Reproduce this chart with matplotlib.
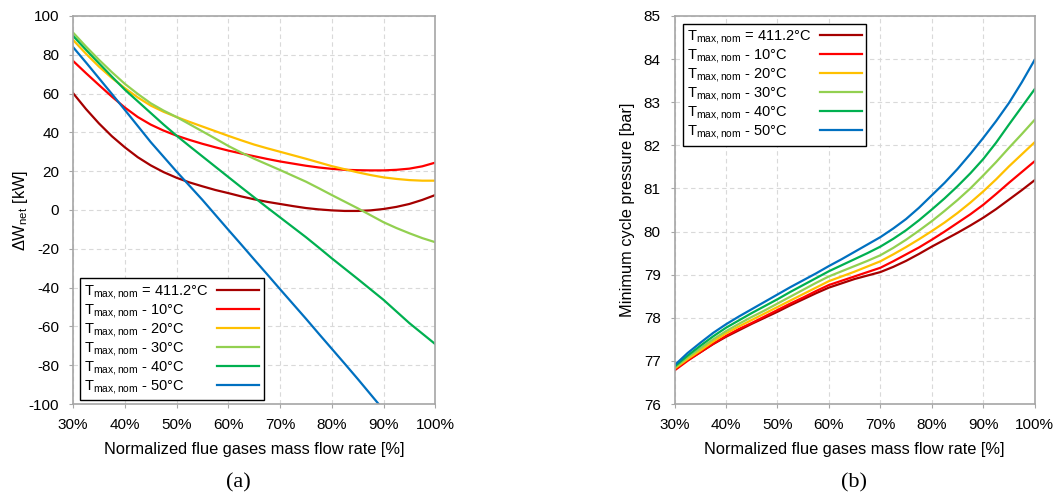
import matplotlib
matplotlib.use("Agg")
import matplotlib.pyplot as plt
import numpy as np

plt.rcParams['font.family'] = ['Liberation Sans', 'DejaVu Sans']
plt.rcParams['mathtext.default'] = 'regular'
plt.rcParams['axes.unicode_minus'] = False

# flue gas flow rate, % of nominal (2.5 % steps)
flow = [30, 32.5, 35, 37.5, 40, 42.5, 45, 47.5, 50, 52.5, 55, 57.5, 60, 62.5, 65,
        67.5, 70, 72.5, 75, 77.5, 80, 82.5, 85, 87.5, 90, 92.5, 95, 97.5, 100]

labels = [r'T$_{max,nom}$ = 411.2°C',
          r'T$_{max,nom}$ - 10°C',
          r'T$_{max,nom}$ - 20°C',
          r'T$_{max,nom}$ - 30°C',
          r'T$_{max,nom}$ - 40°C',
          r'T$_{max,nom}$ - 50°C']
colors = ['#A50000', '#FF0000', '#FFC000', '#92D050', '#00B050', '#0070C0']

# net power difference [kW]
dw_nom = [60.2, 52.0, 44.6, 38.0, 32.3, 27.2, 23.0, 19.5, 16.6, 14.2, 12.2, 10.3, 8.7, 7.0, 5.5,
          4.2, 3.1, 2.0, 1.0, 0.3, -0.2, -0.5, -0.5, -0.2, 0.5, 1.6, 3.1, 5.2, 7.7]
dw_10 = [76.8, 70.5, 64.4, 58.4, 52.8, 47.9, 44.0, 40.9, 38.3, 36.1, 34.1, 32.3, 30.6, 29.1, 27.7,
         26.3, 25.0, 23.9, 22.8, 21.9, 21.2, 20.7, 20.5, 20.4, 20.4, 20.7, 21.3, 22.5, 24.4]
dw_20 = [87.6, 80.5, 73.9, 68.0, 62.8, 58.0, 53.8, 50.6, 47.9, 45.4, 43.0, 40.6, 38.2, 35.9, 33.7,
         31.8, 30.0, 28.2, 26.4, 24.5, 22.6, 21.0, 19.4, 18.0, 16.8, 16.0, 15.4, 15.1, 15.1]
dw_30 = [91.4, 84.2, 77.4, 71.0, 65.0, 59.8, 55.0, 51.2, 47.9, 44.2, 40.5, 36.8, 33.0, 29.6, 26.4,
         23.5, 20.6, 17.6, 14.6, 11.2, 7.7, 4.3, 0.9, -2.7, -6.3, -9.3, -12.0, -14.5, -16.6]
dw_40 = [89.7, 82.5, 75.6, 68.7, 62.0, 56.0, 50.0, 44.0, 38.3, 32.9, 27.6, 22.3, 17.0, 11.7, 6.5,
         1.3, -3.8, -8.9, -14.0, -19.4, -24.9, -30.2, -35.5, -40.9, -46.3, -52.3, -58.3, -63.7, -69.1]
dw_50 = [83.9, 76.0, 67.9, 59.8, 51.6, 43.3, 35.0, 27.4, 19.8, 12.5, 5.2, -2.5, -10.2, -17.8, -25.5,
         -33.1, -40.8, -48.4, -56.0, -63.8, -71.5, -79.2, -87.0, -95.0, -103.0]

# minimum cycle pressure [bar]
p_nom = [76.80, 77.02, 77.20, 77.39, 77.56, 77.71, 77.86, 78.00, 78.14, 78.29, 78.43, 78.57, 78.70, 78.80, 78.90,
         78.98, 79.06, 79.18, 79.32, 79.48, 79.65, 79.81, 79.97, 80.14, 80.32, 80.52, 80.74, 80.96, 81.19]
p_10 = [76.78, 77.00, 77.20, 77.40, 77.58, 77.74, 77.88, 78.03, 78.18, 78.33, 78.47, 78.62, 78.76, 78.86, 78.96,
        79.06, 79.16, 79.31, 79.47, 79.63, 79.81, 80.00, 80.20, 80.40, 80.62, 80.87, 81.13, 81.38, 81.63]
p_20 = [76.82, 77.04, 77.24, 77.45, 77.64, 77.80, 77.95, 78.10, 78.25, 78.40, 78.55, 78.70, 78.85, 78.96, 79.07,
        79.19, 79.31, 79.47, 79.64, 79.82, 80.01, 80.21, 80.43, 80.67, 80.93, 81.21, 81.51, 81.79, 82.07]
p_30 = [76.84, 77.08, 77.29, 77.50, 77.69, 77.86, 78.02, 78.17, 78.33, 78.49, 78.65, 78.81, 78.96, 79.08, 79.20,
        79.32, 79.45, 79.62, 79.81, 80.02, 80.24, 80.48, 80.73, 81.00, 81.30, 81.61, 81.94, 82.26, 82.59]
p_40 = [76.87, 77.12, 77.35, 77.57, 77.77, 77.94, 78.11, 78.27, 78.43, 78.60, 78.76, 78.92, 79.08, 79.22, 79.36,
        79.50, 79.65, 79.83, 80.03, 80.26, 80.51, 80.77, 81.05, 81.35, 81.68, 82.06, 82.48, 82.89, 83.30]
p_50 = [76.90, 77.18, 77.42, 77.65, 77.85, 78.03, 78.20, 78.37, 78.54, 78.71, 78.87, 79.03, 79.20, 79.36, 79.53,
        79.70, 79.87, 80.07, 80.29, 80.55, 80.84, 81.13, 81.45, 81.80, 82.17, 82.56, 82.98, 83.46, 83.98]

dw_series = [dw_nom, dw_10, dw_20, dw_30, dw_40, dw_50]
p_series = [p_nom, p_10, p_20, p_30, p_40, p_50]

fig = plt.figure(figsize=(10.59, 4.97), dpi=100)
ax1 = fig.add_axes([0.069, 0.187, 0.342, 0.781])
ax2 = fig.add_axes([0.637, 0.187, 0.340, 0.781])

for ys, c, lab in zip(dw_series, colors, labels):
    ax1.plot(flow[:len(ys)], ys, color=c, lw=1.6, label=lab)
for ys, c, lab in zip(p_series, colors, labels):
    ax2.plot(flow, ys, color=c, lw=1.6, label=lab)

xt = np.arange(30, 101, 10)
for ax in (ax1, ax2):
    ax.set_xlim(30, 100)
    ax.set_xticks(xt)
    ax.set_xticklabels([f'{v}%' for v in xt])
    ax.grid(True, color='#d9d9d9', ls=(0, (4, 3)), lw=0.8)
    ax.set_axisbelow(True)
    for s in ax.spines.values():
        s.set_color('#a6a6a6')
        s.set_linewidth(1.2)
    ax.tick_params(labelsize=11, colors='#a6a6a6', labelcolor='black', length=3, pad=7)
    ax.set_xlabel('Normalized flue gases mass flow rate [%]', fontsize=11.8, labelpad=7)

ax1.set_ylim(-100, 100)
ax1.set_yticks(np.arange(-100, 101, 20))
ax1.set_ylabel(r'$\Delta$W$_{net}$ [kW]', fontsize=11.8, labelpad=-1)

ax2.set_ylim(76, 85)
ax2.set_yticks(np.arange(76, 86, 1))
ax2.set_ylabel('Minimum cycle pressure [bar]', fontsize=11.8, labelpad=6)

leg_fs = 10.5
leg_pad = 0.55
leg_kw = dict(fontsize=leg_fs, markerfirst=False, fancybox=False, edgecolor='black',
              framealpha=1, handlelength=2.9, borderpad=0.3, labelspacing=0.07,
              handletextpad=leg_pad, borderaxespad=0)
l1 = ax1.legend(loc='lower left', bbox_to_anchor=(7 / 362, 4 / 388), **leg_kw)
l2 = ax2.legend(loc='upper left', bbox_to_anchor=(8 / 360, 1 - 8 / 388), **leg_kw)

# left-align the legend labels while keeping the line samples in one column
fig.canvas.draw()
renderer = fig.canvas.get_renderer()
for leg in (l1, l2):
    leg.get_frame().set_linewidth(1.0)
    widths = [t.get_window_extent(renderer).width for t in leg.get_texts()]
    wmax = max(widths)
    rows = leg._legend_handle_box.get_children()[0].get_children()
    for row, w in zip(rows, widths):
        row.sep = leg_pad * leg_fs + (wmax - w) * 72 / fig.dpi

fig.text(0.225, 0.028, '(a)', family='Liberation Serif', fontsize=16, ha='center', va='center')
fig.text(0.806, 0.028, '(b)', family='Liberation Serif', fontsize=16, ha='center', va='center')

fig.savefig('out.png', dpi=100)
